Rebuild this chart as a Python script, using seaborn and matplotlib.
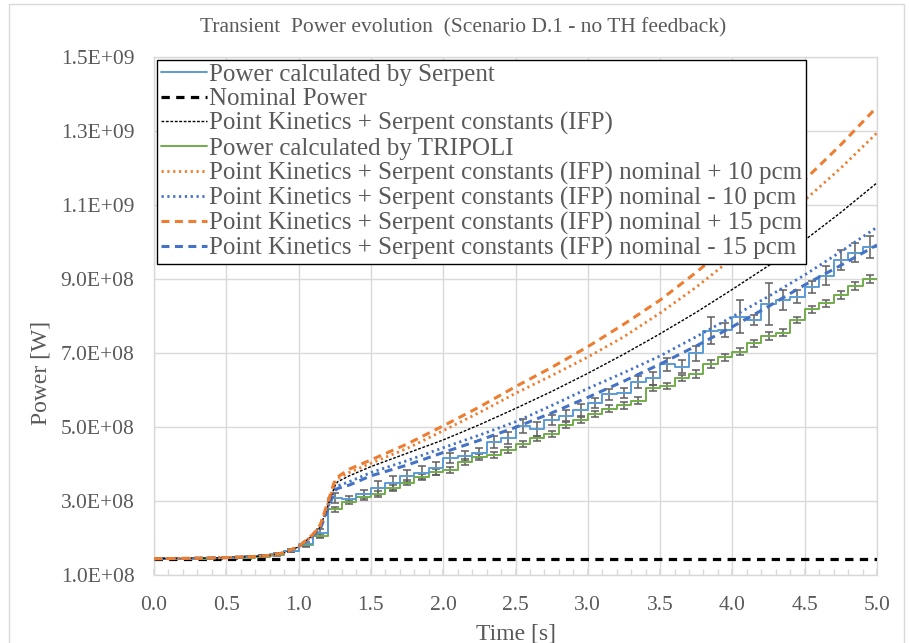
import numpy as np
import pandas as pd
import matplotlib
matplotlib.use("Agg")
import matplotlib.pyplot as plt
from matplotlib.ticker import FuncFormatter, MultipleLocator
from matplotlib.lines import Line2D
from matplotlib.patches import Rectangle
import seaborn as sns

# ---------------- data (powers in units of 1E8 W) ----------------
nominal_power = 1.44

# Monte Carlo step data: 0.1 s intervals starting at 0.0
step_edges = [round(0.1 * i, 1) for i in range(51)]
serpent = [1.44, 1.44, 1.44, 1.45, 1.45, 1.46, 1.48, 1.51, 1.56, 1.66,
           1.84, 2.13, 3.08, 3.05, 3.19, 3.35, 3.49, 3.68, 3.77, 3.88,
           4.15, 4.22, 4.29, 4.60, 4.71, 5.03, 4.95, 5.19, 5.30, 5.46,
           5.64, 5.88, 5.91, 6.22, 6.32, 6.69, 6.63, 6.99, 7.60, 7.62,
           7.98, 7.90, 8.32, 8.43, 8.52, 8.79, 9.09, 9.51, 9.71, 9.86]
serpent_err = [0.02, 0.02, 0.02, 0.02, 0.02, 0.03, 0.03, 0.03, 0.03, 0.04,
               0.045, 0.11, 0.135, 0.09, 0.11, 0.18, 0.18, 0.16, 0.18, 0.18,
               0.135, 0.135, 0.135, 0.17, 0.16, 0.18, 0.18, 0.135, 0.15, 0.16,
               0.135, 0.16, 0.135, 0.16, 0.18, 0.18, 0.18, 0.20, 0.36, 0.20,
               0.45, 0.135, 0.56, 0.27, 0.18, 0.16, 0.25, 0.27, 0.25, 0.29]
tripoli = [1.44, 1.44, 1.44, 1.44, 1.45, 1.46, 1.47, 1.50, 1.55, 1.64,
           1.81, 2.05, 2.78, 2.98, 3.11, 3.19, 3.35, 3.49, 3.65, 3.78,
           3.84, 4.06, 4.20, 4.24, 4.38, 4.54, 4.69, 4.81, 5.05, 5.19,
           5.35, 5.50, 5.59, 5.71, 6.05, 6.11, 6.32, 6.43, 6.70, 6.88,
           7.04, 7.26, 7.46, 7.55, 7.89, 8.18, 8.34, 8.57, 8.81, 8.99]
tripoli_err = [0.02, 0.02, 0.02, 0.02, 0.02, 0.02, 0.03, 0.03, 0.03, 0.03,
               0.04, 0.05, 0.07, 0.06, 0.07, 0.07, 0.07, 0.07, 0.08, 0.08,
               0.08, 0.08, 0.08, 0.08, 0.08, 0.08, 0.08, 0.08, 0.09, 0.09,
               0.09, 0.09, 0.09, 0.09, 0.09, 0.09, 0.09, 0.10, 0.10, 0.10,
               0.10, 0.10, 0.10, 0.10, 0.09, 0.09, 0.10, 0.11, 0.11, 0.11]

# Point-kinetics curves
pk_time = [0.0, 0.25, 0.5, 0.7, 0.8, 0.9, 1.0, 1.1, 1.15, 1.2, 1.25, 1.27,
           1.35, 1.5, 1.75, 2.0, 2.25, 2.5, 2.75, 3.0, 3.25, 3.5, 3.75,
           4.0, 4.25, 4.5, 4.75, 5.0]
pk_ifp = [1.44, 1.45, 1.47, 1.50, 1.53, 1.60, 1.76, 2.08, 2.30, 2.85, 3.40, 3.52,
          3.68, 3.93, 4.29, 4.65, 5.06, 5.50, 5.96, 6.45, 6.97, 7.52, 8.10,
          8.72, 9.36, 10.05, 10.80, 11.60]
pk_p10 = [1.44, 1.45, 1.47, 1.50, 1.53, 1.60, 1.76, 2.09, 2.33, 2.90, 3.50, 3.60,
          3.77, 4.02, 4.42, 4.90, 5.39, 5.91, 6.39, 6.89, 7.44, 8.08, 8.78,
          9.56, 10.32, 11.13, 12.00, 12.95]
pk_m10 = [1.44, 1.45, 1.47, 1.50, 1.53, 1.60, 1.76, 2.07, 2.27, 2.80, 3.32, 3.41,
          3.52, 3.77, 4.09, 4.44, 4.78, 5.14, 5.58, 6.04, 6.47, 6.92, 7.44,
          7.98, 8.53, 9.11, 9.74, 10.40]
pk_p15 = [1.44, 1.45, 1.47, 1.50, 1.53, 1.60, 1.77, 2.10, 2.36, 2.95, 3.55, 3.65,
          3.86, 4.11, 4.54, 5.03, 5.54, 6.09, 6.61, 7.17, 7.78, 8.43, 9.18,
          10.00, 10.81, 11.68, 12.63, 13.65]
pk_m15 = [1.44, 1.45, 1.47, 1.50, 1.53, 1.60, 1.76, 2.06, 2.25, 2.75, 3.28, 3.34,
          3.43, 3.68, 3.97, 4.31, 4.64, 4.99, 5.38, 5.80, 6.24, 6.70, 7.19,
          7.71, 8.26, 8.84, 9.37, 9.92]

labels = ["Power calculated by Serpent",
          "Nominal Power",
          "Point Kinetics + Serpent constants (IFP)",
          "Power calculated by TRIPOLI",
          "Point Kinetics + Serpent constants (IFP) nominal + 10 pcm",
          "Point Kinetics + Serpent constants (IFP) nominal - 10 pcm",
          "Point Kinetics + Serpent constants (IFP) nominal + 15 pcm",
          "Point Kinetics + Serpent constants (IFP) nominal - 15 pcm"]

title = "Transient  Power evolution  (Scenario D.1 - no TH feedback)"
x_label = "Time [s]"
y_label = "Power [W]"
y_ticks = [1.0e8, 3.0e8, 5.0e8, 7.0e8, 9.0e8, 1.1e9, 1.3e9, 1.5e9]
x_ticks = [0.0, 0.5, 1.0, 1.5, 2.0, 2.5, 3.0, 3.5, 4.0, 4.5, 5.0]

# ---------------- styling ----------------
sns.set_theme(style="white")
plt.rcParams["font.family"] = ["Liberation Serif", "DejaVu Serif"]
TXT = "#595959"
GRID = "#D9D9D9"
C_SERP = "#5B9BD5"
C_TRIP = "#70AD47"
C_OR = "#ED7D31"
C_BL = "#4472C4"

fig = plt.figure(figsize=(9.09, 6.43), dpi=100)
ax = fig.add_axes([154 / 909, 1 - 575 / 643, (877 - 154) / 909, (575 - 57) / 643])

S = 1e8
edges = np.array(step_edges)
mids = edges[:-1] + 0.05
serp_w = np.array(serpent + [serpent[-1]]) * S
trip_w = np.array(tripoli + [tripoli[-1]]) * S

DASH = (0, (2.6, 1.8))
DOT = (0, (0.8, 1.3))
FINE = (0, (2.0, 1.2))
NOM = (0, (2.6, 2.0))

# nominal
sns.lineplot(x=[0.0, 5.0], y=[nominal_power * S] * 2, ax=ax, color="black",
             lw=2.3, linestyle=NOM, zorder=3)

# error bars
ax.errorbar(mids, np.array(tripoli) * S, yerr=np.array(tripoli_err) * S, fmt="none",
            ecolor="#5f5f5f", elinewidth=1.1, capsize=3.2, capthick=1.1, zorder=2)
ax.errorbar(mids, np.array(serpent) * S, yerr=np.array(serpent_err) * S, fmt="none",
            ecolor="#5f5f5f", elinewidth=1.1, capsize=3.2, capthick=1.1, zorder=2)

# steps
sns.lineplot(x=edges, y=trip_w, ax=ax, color=C_TRIP, lw=1.4, drawstyle="steps-post",
             sort=False, zorder=4)
sns.lineplot(x=edges, y=serp_w, ax=ax, color=C_SERP, lw=1.4, drawstyle="steps-post",
             sort=False, zorder=4)

t = np.array(pk_time)
sns.lineplot(x=t, y=np.array(pk_m15) * S, ax=ax, color=C_BL, lw=2.2,
             linestyle=DASH, sort=False, zorder=5)
sns.lineplot(x=t, y=np.array(pk_m10) * S, ax=ax, color=C_BL, lw=2.0,
             linestyle=DOT, sort=False, zorder=5)
sns.lineplot(x=t, y=np.array(pk_ifp) * S, ax=ax, color="black", lw=1.0,
             linestyle=FINE, sort=False, zorder=5)
sns.lineplot(x=t, y=np.array(pk_p10) * S, ax=ax, color=C_OR, lw=2.0,
             linestyle=DOT, sort=False, zorder=5)
sns.lineplot(x=t, y=np.array(pk_p15) * S, ax=ax, color=C_OR, lw=2.2,
             linestyle=DASH, sort=False, zorder=5)

# axes
ax.set_xlim(0, 5)
ax.set_ylim(1e8, 1.5e9)
ax.set_xticks(x_ticks)
ax.set_yticks(y_ticks)
ax.xaxis.set_minor_locator(MultipleLocator(0.1))
ax.xaxis.set_major_formatter(FuncFormatter(lambda v, p: f"{v:.1f}"))
ax.yaxis.set_major_formatter(FuncFormatter(lambda v, p: f"{v:.1E}"))
ax.grid(True, which="major", color=GRID, lw=1.0)
ax.set_axisbelow(True)
for sp in ax.spines.values():
    sp.set_color(GRID)
    sp.set_linewidth(1.0)
ax.tick_params(axis="x", which="both", direction="in", length=4, color=GRID,
               labelsize=15.5, labelcolor=TXT, pad=15, bottom=True)
ax.tick_params(axis="x", which="minor", length=4)
ax.tick_params(axis="y", which="both", length=0, labelsize=15.5, labelcolor=TXT, pad=14)
ax.set_xlabel(x_label, fontsize=17, color=TXT, labelpad=6)
ax.set_ylabel(y_label, fontsize=17, color=TXT)
ax.yaxis.set_label_coords(-0.142, 0.39)
fig.text(463 / 909, 1 - 28 / 643, title, ha="center", va="center", fontsize=15.5, color=TXT)

# legend
handles = [
    Line2D([], [], color=C_SERP, lw=1.4),
    Line2D([], [], color="black", lw=2.3, linestyle=NOM),
    Line2D([], [], color="black", lw=1.0, linestyle=FINE),
    Line2D([], [], color=C_TRIP, lw=1.4),
    Line2D([], [], color=C_OR, lw=2.0, linestyle=DOT),
    Line2D([], [], color=C_BL, lw=2.0, linestyle=DOT),
    Line2D([], [], color=C_OR, lw=2.2, linestyle=DASH),
    Line2D([], [], color=C_BL, lw=2.2, linestyle=DASH),
]
leg = ax.legend(handles, labels, loc="upper left", bbox_to_anchor=(0.004, 0.995),
                borderaxespad=0, fontsize=18, labelspacing=0.08, handlelength=1.85,
                handletextpad=0.1, borderpad=0.15, fancybox=False, framealpha=1,
                edgecolor="black", labelcolor=TXT)
leg.get_frame().set_linewidth(1.0)
leg.set_zorder(10)

# outer chart border
fig.patches.append(Rectangle((9 / 909, -0.01), (904 - 9) / 909, 1 - 4 / 643 + 0.01,
                             transform=fig.transFigure, fill=False, edgecolor=GRID, lw=1.0))

fig.savefig("out.png", dpi=100)
